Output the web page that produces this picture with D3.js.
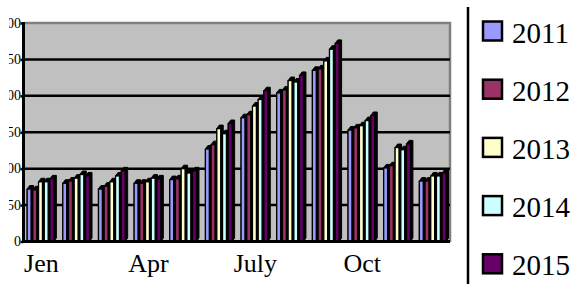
<!DOCTYPE html>
<html lang="en">
<head>
<meta charset="UTF-8">
<title>Monthly bars 2011-2015</title>
<script src="https://d3js.org/d3.v7.min.js"></script>
<style>
  body { margin: 0; background: #fff; }
  svg { display: block; }
  .lbl { font-family: "Liberation Serif", "DejaVu Serif", serif; fill: #000; }
</style>
</head>
<body>
<svg width="579" height="284"></svg>
<script>
// data
const months = ['Jen', 'Feb', 'Mar', 'Apr', 'May', 'Jun', 'July', 'Aug', 'Sep', 'Oct', 'Nov', 'Dec'];
const years = ['2011', '2012', '2013', '2014', '2015'];
const colors = ['#9999ff', '#993366', '#ffffcc', '#ccffff', '#660066'];
const v2011 = [72, 80, 72, 80, 85, 127, 170, 204, 235, 153, 101, 83];
const v2012 = [71, 83, 76, 80, 86, 133, 174, 208, 237, 156, 104, 83];
const v2013 = [82, 87, 82, 82, 100, 155, 186, 221, 248, 159, 129, 90];
const v2014 = [82, 92, 90, 87, 94, 148, 195, 219, 264, 166, 126, 90];
const v2015 = [86, 90, 97, 86, 97, 162, 207, 228, 272, 173, 134, 94];
const yTicks = [0, 50, 100, 150, 200, 250, 300];

const series = [v2011, v2012, v2013, v2014, v2015];

const plot = { left: 25, right: 451, top: 22, bottom: 242 };
const dx = 2.5, dy = 3.5; // 3d depth of each bar

const svg = d3.select('svg');

const y = d3.scaleLinear().domain([0, 300]).range([241.5, 23]);
const x0 = d3.scaleBand().domain(months).range([plot.left, 450])
    .paddingInner(0.2).paddingOuter(0.06);
const x1 = d3.scaleBand().domain(years).range([0, x0.bandwidth()]);
const barW = x1.bandwidth() - 1.8;

// plot area
svg.append('rect')
    .attr('x', plot.left).attr('y', plot.top)
    .attr('width', plot.right - plot.left).attr('height', plot.bottom - plot.top)
    .attr('fill', '#c0c0c0');
svg.append('path')
    .attr('d', `M${plot.left},${plot.top + 1}H${plot.right - 1}V${plot.bottom}`)
    .attr('fill', 'none').attr('stroke', '#808080').attr('stroke-width', 2.5);

// gridlines
svg.append('g')
    .selectAll('line')
    .data(yTicks.slice(1, -1))
    .enter()
    .append('line')
    .attr('x1', plot.left).attr('x2', 450)
    .attr('y1', d => y(d)).attr('y2', d => y(d))
    .attr('stroke', '#000').attr('stroke-width', 2.5);

// bars
const groups = svg.append('g')
    .selectAll('g')
    .data(months)
    .enter()
    .append('g')
    .attr('transform', d => `translate(${x0(d)},0)`);

years.forEach((yr, k) => {
    groups.each(function(m, i) {
        const g = d3.select(this);
        const bx = x1(yr);
        const top = y(series[k][i]);
        const base = y(0);
        g.append('polygon')
            .attr('points', [
                [bx, top], [bx + dx, top - dy], [bx + barW + dx, top - dy],
                [bx + barW + dx, base - dy], [bx + barW, base], [bx, base]
            ].map(p => p.join(',')).join(' '))
            .attr('fill', '#000')
            .attr('stroke', '#000').attr('stroke-width', 1)
            .attr('stroke-linejoin', 'round');
        g.append('rect')
            .attr('x', bx).attr('y', top)
            .attr('width', barW).attr('height', base - top)
            .attr('fill', colors[k])
            .attr('stroke', '#000').attr('stroke-width', 1.3);
    });
});

// floor and left axis
svg.append('line')
    .attr('x1', plot.left).attr('x2', 450)
    .attr('y1', 241.5).attr('y2', 241.5)
    .attr('stroke', '#000').attr('stroke-width', 3);

const yAxis = svg.append('g')
    .attr('transform', `translate(${plot.left - 1.5},0)`)
    .call(d3.axisLeft(y).tickValues(yTicks).tickSize(3).tickFormat(''));
yAxis.select('.domain').attr('stroke-width', 3).attr('d', `M0,${plot.top}V243`);
yAxis.selectAll('.tick line').attr('stroke-width', 2.5);

// y labels, clipped at the left like the original
svg.append('clipPath').attr('id', 'yclip')
    .append('rect').attr('x', 9).attr('y', 0).attr('width', 20).attr('height', 284);
svg.append('g')
    .attr('clip-path', 'url(#yclip)')
    .selectAll('text')
    .data(yTicks)
    .enter()
    .append('text')
    .attr('class', 'lbl')
    .attr('x', 21)
    .attr('y', d => y(d) + 4.5)
    .attr('text-anchor', 'end')
    .attr('font-size', 14)
    .attr('fill', '#333')
    .text(d => d);

// x labels, every third month
svg.append('g')
    .selectAll('text')
    .data(months.filter((m, i) => i % 3 === 0))
    .enter()
    .append('text')
    .attr('class', 'lbl')
    .attr('x', d => x0(d) + x0.bandwidth() / 2)
    .attr('y', 272)
    .attr('text-anchor', 'middle')
    .attr('font-size', 26)
    .text(d => d);

// legend
svg.append('line')
    .attr('x1', 468).attr('x2', 468).attr('y1', 7).attr('y2', 284)
    .attr('stroke', '#000').attr('stroke-width', 2.5);

const legend = svg.append('g')
    .selectAll('g')
    .data(years)
    .enter()
    .append('g')
    .attr('transform', (d, i) => `translate(482,${31 + i * 58.2})`);
legend.append('rect')
    .attr('x', 1).attr('y', -9.5)
    .attr('width', 19).attr('height', 19)
    .attr('fill', (d, i) => colors[i])
    .attr('stroke', '#000').attr('stroke-width', 2.5);
legend.append('text')
    .attr('class', 'lbl')
    .attr('x', 30)
    .attr('y', 11.5)
    .attr('font-size', 29)
    .text(d => d);
</script>
</body>
</html>
